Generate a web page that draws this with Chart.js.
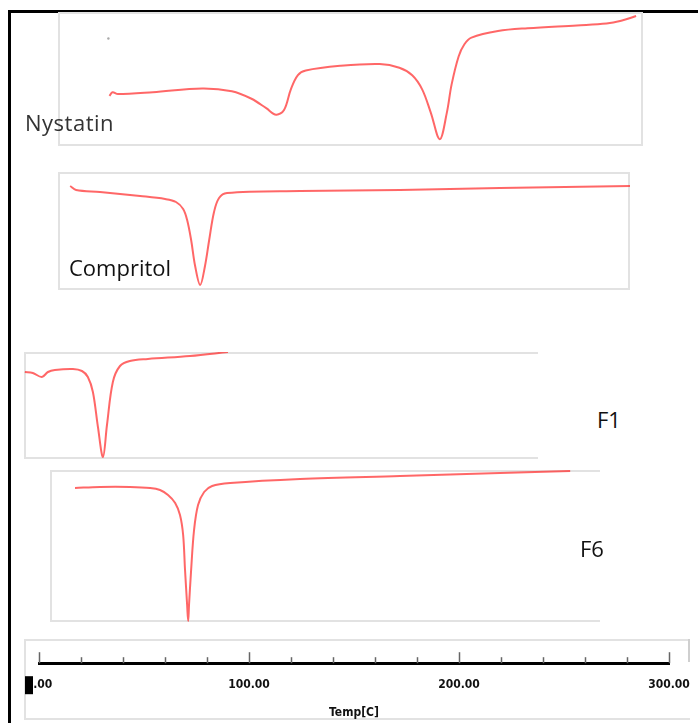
<!DOCTYPE html>
<html>
<head>
<meta charset="utf-8">
<script src="https://cdn.jsdelivr.net/npm/chart.js@4.4.1/dist/chart.umd.min.js"></script>
<style>
  html, body { margin: 0; padding: 0; background: #fff; }
  body { width: 698px; height: 723px; position: relative; overflow: hidden; }
  .frame { position: absolute; left: 8px; top: 10px; width: 700px; height: 720px;
           border-top: 3px solid #000; border-left: 3px solid #000; }
  .box { position: absolute; box-sizing: border-box; border: 2px solid #e2e2e2; }
  canvas { position: absolute; }
  .lbl { position: absolute; font-family: "Open Sans", "Noto Sans", sans-serif;
         font-size: 22px; line-height: 22px; color: #111; white-space: nowrap; }
</style>
</head>
<body>
<div class="frame"></div>

<div class="box" style="left:58px;top:12px;width:585px;height:134px"></div>
<canvas id="nystatin" width="585" height="134" style="left:58px;top:12px"></canvas>
<div class="lbl" style="left:25px;top:111px;color:#333;letter-spacing:0.5px">Nystatin</div>

<div class="box" style="left:58px;top:172px;width:572px;height:118px"></div>
<canvas id="compritol" width="572" height="118" style="left:58px;top:172px"></canvas>
<div class="lbl" style="left:69px;top:256px">Compritol</div>

<div class="box" style="left:24px;top:352px;width:514px;height:107px;border-right:none"></div>
<canvas id="f1" width="514" height="107" style="left:24px;top:352px"></canvas>
<div class="lbl" style="left:597px;top:408px">F1</div>

<div class="box" style="left:50px;top:470px;width:550px;height:152px;border-right:none"></div>
<canvas id="f6" width="550" height="152" style="left:50px;top:470px"></canvas>
<div class="lbl" style="left:580px;top:537px">F6</div>

<div class="box" style="left:24px;top:639px;width:666px;height:81px;border-right:none"></div>
<div style="position:absolute;left:688px;top:639px;width:2px;height:23px;background:#cfcfcf"></div>
<canvas id="axis" width="666" height="141" style="left:24px;top:579px"></canvas>

<script>
// Термограммы ДСК: температура (°C) и тепловой поток (усл. ед.)
const nystatinTemp = [31.9, 33.4, 36.0, 52.9, 76.7, 91.0, 100.5, 107.6, 112.4, 116.2, 119.5, 122.9, 126.7,
                      143.3, 162.4, 171.9, 178.1, 182.9, 187.1, 191.4, 194.8, 197.1, 200.5, 203.3, 206.7,
                      219.5, 233.8, 257.6, 271.9, 279.0, 286.2];
const nystatinFlow = [4.9, 5.3, 5.1, 5.3, 5.7, 5.4, 4.6, 3.6, 2.9, 3.4, 5.6, 7.1, 7.6,
                      8.1, 8.3, 7.9, 7.1, 5.6, 3.1, 0.3, 3.1, 6.1, 9.1, 10.4, 11.1,
                      11.8, 12.1, 12.4, 12.6, 12.9, 13.4];
const nystatinMark = [{ x: 31.4, y: 11.0 }];

const compritolTemp = [14.8, 17.6, 29.0, 48.1, 60.0, 65.2, 68.6, 70.5, 72.4, 74.3, 76.7, 79.0, 81.0, 83.3,
                       85.7, 89.5, 124.3, 171.9, 219.5, 281.4];
const compritolFlow = [10.4, 10.0, 9.8, 9.4, 9.1, 8.8, 8.1, 7.0, 5.0, 2.4, 0.5, 2.4, 5.0, 7.8,
                       9.2, 9.7, 9.9, 10.0, 10.2, 10.4];

const f1Temp = [-6.7, -2.9, 1.4, 4.3, 7.6, 16.2, 20.5, 23.3, 25.7, 28.1, 30.5, 32.4, 35.2,
                38.6, 43.3, 51.9, 71.9, 90.0];
const f1Flow = [8.7, 8.6, 8.2, 8.7, 8.9, 9.0, 8.8, 8.2, 6.7, 3.2, 0.2, 3.4, 7.7,
                9.3, 9.8, 10.0, 10.3, 10.7];

const f6Temp = [17.1, 29.0, 43.3, 52.9, 57.6, 61.4, 64.8, 67.1, 68.6, 69.5, 70.5, 71.0, 71.4, 72.4,
                73.8, 75.7, 78.6, 82.4, 91.0, 124.3, 171.9, 219.5, 252.9];
const f6Flow = [13.4, 13.5, 13.5, 13.4, 13.2, 12.7, 11.9, 10.7, 8.7, 5.2, 1.7, 0.1, 1.7, 5.2,
                9.2, 11.7, 13.0, 13.6, 13.9, 14.3, 14.6, 14.9, 15.1];

// Ось температуры
const axisMin = 0;
const axisMax = 300;
const axisStep = 20;
const axisLabelStep = 100;
const axisTitle = 'Temp[C]';

const CURVE_COLOR = 'rgba(255, 45, 45, 0.72)';
const NARROW = "'Liberation Sans Narrow', 'DejaVu Sans Condensed', sans-serif";

function toPoints(temps, flows) {
    return temps.map((t, i) => ({ x: t, y: flows[i] }));
}

function makePanel(id, temps, flows, xMin, xMax, yMax, extra) {
    const datasets = [{
        data: toPoints(temps, flows),
        borderColor: CURVE_COLOR,
        borderWidth: 2,
        pointRadius: 0,
        showLine: true,
        tension: 0.35,
        clip: false
    }];
    if (extra) {
        datasets.push({
            data: extra,
            pointRadius: 1.2,
            pointBackgroundColor: '#aaa',
            pointBorderWidth: 0,
            showLine: false
        });
    }
    return new Chart(document.getElementById(id), {
        type: 'scatter',
        data: { datasets },
        options: {
            responsive: false,
            animation: false,
            layout: { padding: 0 },
            plugins: { legend: { display: false }, tooltip: { enabled: false } },
            scales: {
                x: { type: 'linear', display: false, min: xMin, max: xMax },
                y: { type: 'linear', display: false, min: 0, max: yMax }
            }
        }
    });
}

makePanel('nystatin', nystatinTemp, nystatinFlow, 9.0, 287.6, 13.4, nystatinMark);
makePanel('compritol', compritolTemp, compritolFlow, 9.0, 281.4, 11.8);
makePanel('f1', f1Temp, f1Flow, -7.1, 237.6, 10.7);
makePanel('f6', f6Temp, f6Flow, 5.2, 267.1, 15.2);

// Засечки над осью (длинные на сотнях, короткие на каждых 20)
const tickMarks = {
    id: 'tickMarks',
    afterDraw(chart) {
        const { ctx, chartArea, scales } = chart;
        const x = scales.x;
        ctx.save();
        ctx.strokeStyle = '#666';
        ctx.lineWidth = 1.5;
        for (let v = axisMin; v <= axisMax; v += axisStep) {
            const px = Math.round(x.getPixelForValue(v)) + 0.5;
            const len = v % axisLabelStep === 0 ? 11 : 6;
            ctx.beginPath();
            ctx.moveTo(px, chartArea.bottom);
            ctx.lineTo(px, chartArea.bottom - len);
            ctx.stroke();
        }
        // чёрная метка-курсор на нуле
        const p0 = x.getPixelForValue(axisMin);
        ctx.fillStyle = '#000';
        ctx.fillRect(p0 - 14, chartArea.bottom + 13, 8, 18);
        ctx.restore();
    }
};

new Chart(document.getElementById('axis'), {
    type: 'scatter',
    data: { datasets: [{ data: [] }] },
    options: {
        responsive: false,
        animation: false,
        layout: { padding: { left: 15, right: 21, top: 0, bottom: 0 } },
        plugins: { legend: { display: false }, tooltip: { enabled: false } },
        scales: {
            y: { display: false, min: 0, max: 1 },
            x: {
                type: 'linear',
                min: axisMin,
                max: axisMax,
                // подписи не должны сдвигать края оси
                afterFit: scale => { scale.paddingLeft = 0; scale.paddingRight = 0; },
                grid: { drawOnChartArea: false, drawTicks: false },
                border: { color: '#000', width: 3 },
                ticks: {
                    stepSize: axisStep,
                    padding: 14,
                    maxRotation: 0,
                    autoSkip: false,
                    color: '#111',
                    font: { family: NARROW, size: 12, weight: 'bold' },
                    callback: v => (v % axisLabelStep === 0 ? v.toFixed(2) : '')
                },
                title: {
                    display: true,
                    text: axisTitle,
                    color: '#111',
                    padding: { top: 0, bottom: 0 },
                    font: { family: NARROW, size: 12, weight: 'bold' }
                }
            }
        }
    },
    plugins: [tickMarks]
});
</script>
</body>
</html>
